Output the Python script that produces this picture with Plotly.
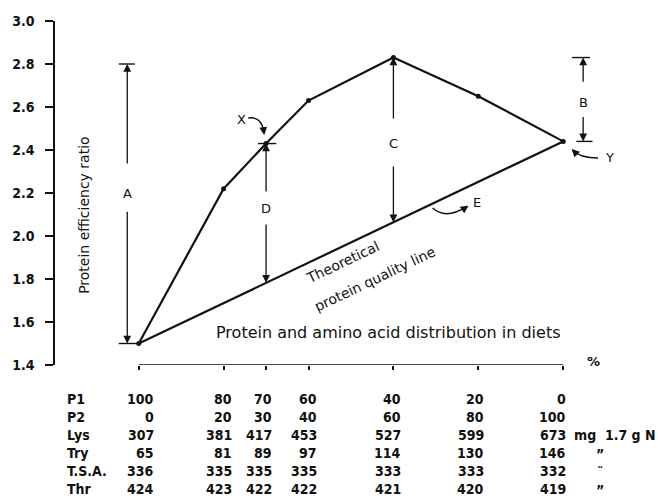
import plotly.graph_objects as go

# Share of protein P1 in the diet (%) and protein efficiency ratio measured
p1_pct = [100, 80, 70, 60, 40, 20, 0]
per = [1.50, 2.22, 2.43, 2.63, 2.83, 2.65, 2.44]

# Composition of each diet, printed under the axis
row_labels = ["P1", "P2", "Lys", "Try", "T.S.A.", "Thr"]
p2_pct = [0, 20, 30, 40, 60, 80, 100]
lys = [307, 381, 417, 453, 527, 599, 673]
try_ = [65, 81, 89, 97, 114, 130, 146]
tsa = [336, 335, 335, 335, 333, 333, 332]
thr = [424, 423, 422, 422, 421, 420, 419]
row_notes = ["", "", "mg  1.7 g N", "\u201d", "\u00a8", "\u201d"]

y_ticks = [1.4, 1.6, 1.8, 2.0, 2.2, 2.4, 2.6, 2.8, 3.0]
a_top = 2.80  # upper end of the A bracket

INK = "#111111"
FONT = "DejaVu Sans"
COND = "DejaVu Sans Condensed, DejaVu Sans"


def theoretical(x):
    """Straight line joining the two single-protein diets."""
    x0, x1 = p1_pct[0], p1_pct[-1]
    return per[0] + (per[-1] - per[0]) * (x0 - x) / (x0 - x1)


fig = go.Figure()

# theoretical protein quality line
fig.add_trace(go.Scatter(
    x=[p1_pct[0], p1_pct[-1]], y=[per[0], per[-1]], mode="lines",
    line=dict(color=INK, width=2.2), hoverinfo="skip", cliponaxis=False,
))
# measured PER of the mixtures
fig.add_trace(go.Scatter(
    x=p1_pct, y=per, mode="lines+markers",
    line=dict(color=INK, width=2.2), marker=dict(color=INK, size=5),
    cliponaxis=False,
))

ann = []
shapes = []


def label(text, x, y, size=13, **kw):
    d = dict(x=x, y=y, xref="x", yref="y", text=text, showarrow=False,
             font=dict(family=FONT, size=size, color=INK))
    d.update(kw)
    ann.append(d)


def arrow(x, y_tail, y_head):
    ann.append(dict(x=x, y=y_head, ax=x, ay=y_tail, xref="x", yref="y",
                    axref="x", ayref="y", text="", showarrow=True,
                    arrowhead=2, arrowsize=1.2, arrowwidth=1.3,
                    arrowcolor=INK, standoff=0, startstandoff=0))


def tip(x, y, ax, ay):
    # short arrow used as the head of a curved pointer
    ann.append(dict(x=x, y=y, ax=ax, ay=ay, xref="x", yref="y", text="",
                    showarrow=True, arrowhead=2, arrowsize=1.2,
                    arrowwidth=1.3, arrowcolor=INK, standoff=0))


def bar(x0, x1, y):
    shapes.append(dict(type="line", xref="x", yref="y", x0=x0, x1=x1,
                       y0=y, y1=y, line=dict(color=INK, width=1.4)))


def curve(p0, c, p1):
    shapes.append(dict(
        type="path", xref="x", yref="y",
        path=f"M {p0[0]},{p0[1]} Q {c[0]},{c[1]} {p1[0]},{p1[1]}",
        line=dict(color=INK, width=1.4)))


per_max = max(per)
i70 = p1_pct.index(70)
i40 = p1_pct.index(40)

# A: from P1 alone up to the best mixture
xa = 102.7
arrow(xa, 2.33, a_top)
arrow(xa, 2.12, per[0])
bar(104.7, 100.9, a_top)
bar(104.7, p1_pct[0], per[0])
label("A", xa, 2.20)

# B: from P2 alone up to the best mixture
xb = -4.7
arrow(xb, 2.71, per_max)
arrow(xb, 2.56, per[-1])
bar(-2.1, -6.3, per_max)
bar(-3.1, -6.9, per[-1])
label("B", xb, 2.62)

# C: best mixture above the theoretical line
x_c = p1_pct[i40]
arrow(x_c, 2.54, per[i40])
arrow(x_c, 2.33, theoretical(x_c))
label("C", x_c, 2.43)

# D: 70/30 mixture above the theoretical line
x_d = p1_pct[i70]
arrow(x_d, 2.20, per[i70])
arrow(x_d, 2.06, theoretical(x_d))
bar(x_d + 1.9, x_d - 2.4, per[i70])
label("D", x_d, 2.13)

# curved pointers X, Y, E
label("X", 75.8, 2.54)
curve((74.2, 2.549), (71.0, 2.558), (70.45, 2.478))
tip(70.42, 2.470, -1, -7)

label("Y", -11.0, 2.363)
curve((-8.2, 2.363), (-4.0, 2.363), (-2.2, 2.398))
tip(-2.0, 2.405, 5, 5)

label("E", 20.2, 2.158)
curve((30.75, 2.130), (27.7, 2.074), (22.7, 2.138))
tip(22.3, 2.141, -6, 4)

# theoretical line caption, following the slope of the line
label("Theoretical", 51.9, 1.879, size=14, textangle=-25.4)
label("protein quality line", 44.4, 1.800, size=14, textangle=-25.4)

# y-axis title drawn inside the frame
ann.append(dict(x=0.0335, y=2.098, xref="paper", yref="y",
                text="Protein efficiency ratio", textangle=-90,
                showarrow=False, font=dict(family=FONT, size=14, color=INK)))

# x-axis caption and unit
label("Protein and amino acid distribution in diets", 41.1, 1.549, size=16)
ann.append(dict(x=p1_pct[-1], y=1.4, xref="x", yref="y", xshift=30,
                yshift=4, text="%", showarrow=False,
                font=dict(family=FONT, size=13, color=INK, weight="bold")))

# x axis drawn only over the 100..0 span
shapes.append(dict(type="line", xref="x", yref="y", x0=p1_pct[0],
                   x1=p1_pct[-1], y0=1.4, y1=1.4,
                   line=dict(color=INK, width=1.5)))

# composition table
rows = [p1_pct, p2_pct, lys, try_, tsa, thr]
col_shift = [17, 10, 8, 10, 10, 8, 5]
row_gap = 18
first_row = 34
table_font = dict(family=COND, size=14, color=INK, weight="bold")
for r, (name, values) in enumerate(zip(row_labels, rows)):
    ys = -(first_row + row_gap * r)
    ann.append(dict(x=0.0176, y=0, xref="paper", yref="paper", yshift=ys,
                    text=name, showarrow=False, xanchor="left",
                    yanchor="middle", font=table_font))
    for c, v in enumerate(values):
        ann.append(dict(x=p1_pct[c], y=0, xref="x", yref="paper",
                        xshift=col_shift[c], yshift=ys, text=str(v),
                        showarrow=False, xanchor="right", yanchor="middle",
                        font=table_font))
    note = row_notes[r]
    if note:
        if note.startswith("mg"):
            ann.append(dict(x=p1_pct[-1], y=0, xref="x", yref="paper",
                            xshift=9, yshift=ys, text=note, showarrow=False,
                            xanchor="left", yanchor="middle",
                            font=table_font))
        else:
            ann.append(dict(x=p1_pct[-1], y=0, xref="x", yref="paper",
                            xshift=37, yshift=ys - 1, text=note,
                            showarrow=False, xanchor="center",
                            yanchor="middle", font=table_font))

fig.update_layout(
    width=658, height=504, autosize=False,
    margin=dict(l=53, r=38, t=21, b=139, pad=0),
    paper_bgcolor="white", plot_bgcolor="white",
    showlegend=False,
    annotations=ann, shapes=shapes,
    xaxis=dict(range=[119.72, -13.38], showline=False, showgrid=False,
               zeroline=False, ticks="outside", tickvals=p1_pct,
               ticklen=4, tickwidth=1.5, tickcolor=INK,
               showticklabels=False, fixedrange=True),
    yaxis=dict(range=[1.4, 3.0], showline=True, linecolor=INK, linewidth=1.5,
               showgrid=False, zeroline=False, ticks="outside",
               tickvals=y_ticks, tickformat=".1f", ticklen=8, tickwidth=1.5,
               tickcolor=INK, ticklabelstandoff=8,
               tickfont=dict(family=COND, size=14, color=INK, weight="bold"),
               fixedrange=True),
)

fig.write_html("out.html")
